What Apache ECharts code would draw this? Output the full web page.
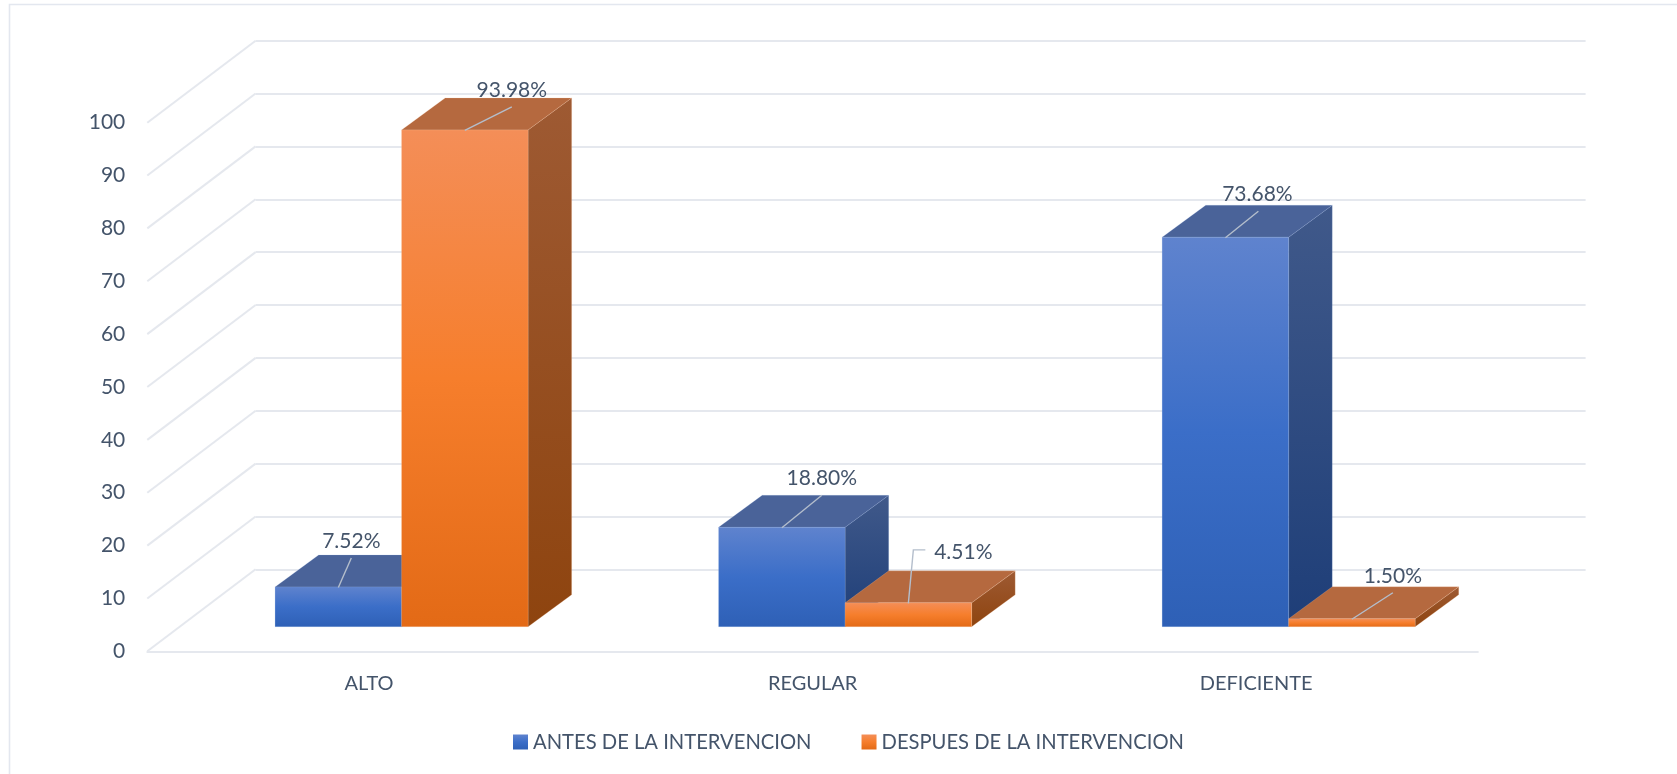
<!DOCTYPE html>
<html>
<head>
<meta charset="utf-8">
<style>html,body{margin:0;padding:0;background:#fff}#c{width:1677px;height:774px}</style>
<script src="https://cdn.jsdelivr.net/npm/echarts@6/dist/echarts.min.js"></script>
</head>
<body>
<div id="c"></div>
<script>
const categories = ['ALTO', 'REGULAR', 'DEFICIENTE'];
const antes = [7.52, 18.80, 73.68];
const despues = [93.98, 4.51, 1.50];
const yTicks = [0, 10, 20, 30, 40, 50, 60, 70, 80, 90, 100];
const seriesNames = ['ANTES DE LA INTERVENCION', 'DESPUES DE LA INTERVENCION'];

// Leader-line bends and label centres, relative to the middle of the bar's top-front edge
const antesLabelLayout = [
  { line: [[13, -29]], text: [13, -46] },
  { line: [[40, -32]], text: [40, -49] },
  { line: [[33, -26]], text: [32, -43] }
];
const despuesLabelLayout = [
  { line: [[47, -23]], text: [47, -40] },
  { line: [[5, -53], [17, -53]], text: [55, -51] },
  { line: [[41, -26]], text: [41, -43] }
];

const FONT = 'Lato, Carlito, sans-serif';
const TEXT = '#44546A';
const GRIDLINE = '#E5E8EE';
const WALL = { x: 108.3, y: -82 };
const BAR = { width: 126.5, depthX: 43.6, depthY: -32, shiftX: 32.5, shiftY: -24.6 };

const grad = (stops, x2 = 0, y2 = 1) => ({
  type: 'linear', x: 0, y: 0, x2, y2,
  colorStops: stops.map((c, i) => ({ offset: i / (stops.length - 1), color: c }))
});
const palette = [
  {
    front: grad(['#5F83CE', '#3B6EC8', '#2E60B6']),
    top: '#4A6399',
    side: grad(['#40598A', '#1E3E78']),
    edge: 'rgba(150,175,225,0.3)'
  },
  {
    front: grad(['#F48E58', '#F67E2C', '#E36A16']),
    top: '#B5693F',
    side: grad(['#9E5A33', '#8E440F']),
    edge: 'rgba(250,200,170,0.35)'
  }
];

function barSeries(idx, values, layout) {
  const p = palette[idx];
  return {
    type: 'custom',
    name: seriesNames[idx],
    xAxisIndex: 0,
    yAxisIndex: 0,
    clip: false,
    z: 5 + idx,
    itemStyle: { color: p.front },
    encode: { x: 0, y: 1 },
    data: values.map((v, i) => [i, v]),
    renderItem(params, api) {
      const c = api.coord([api.value(0), api.value(1)]);
      const b = api.coord([api.value(0), 0]);
      const x0 = c[0] + BAR.shiftX + (idx === 0 ? -BAR.width : 0);
      const x1 = x0 + BAR.width;
      const yt = c[1] + BAR.shiftY;
      const yb = b[1] + BAR.shiftY;
      const dx = BAR.depthX, dy = BAR.depthY;
      const lay = layout[params.dataIndex];
      const ax = (x0 + x1) / 2, ay = yt;
      const linePts = [[ax, ay + 0.5]].concat(lay.line.map(o => [ax + o[0], ay + o[1]]));
      return {
        type: 'group',
        children: [
          { type: 'polygon', shape: { points: [[x1, yt], [x1 + dx, yt + dy], [x1 + dx, yb + dy], [x1, yb]] },
            style: { fill: p.side, stroke: p.edge, lineWidth: 0.6 } },
          { type: 'polygon', shape: { points: [[x0, yt], [x0 + dx, yt + dy], [x1 + dx, yt + dy], [x1, yt]] },
            style: { fill: p.top, stroke: p.edge, lineWidth: 0.6 } },
          { type: 'rect', shape: { x: x0, y: yt, width: BAR.width, height: yb - yt },
            style: { fill: p.front, stroke: p.edge, lineWidth: 0.6 } },
          { type: 'polyline', shape: { points: linePts },
            style: { fill: 'none', stroke: '#B4BECC', lineWidth: 1.4 } },
          { type: 'text',
            style: { x: ax + lay.text[0], y: ay + lay.text[1], text: values[params.dataIndex].toFixed(2) + '%',
              fill: TEXT, font: '21px ' + FONT, textAlign: 'center', textVerticalAlign: 'middle' } }
        ]
      };
    }
  };
}

const chart = echarts.init(document.getElementById('c'), null, { renderer: 'canvas' });
chart.setOption({
  animation: false,
  backgroundColor: '#fff',
  graphic: [{
    type: 'polyline', silent: true, z: 0,
    shape: { points: [[9.5, 774], [9.5, 4.5], [1677, 4.5]] },
    style: { fill: 'none', stroke: '#E3E7EF', lineWidth: 1.6 }
  }],
  grid: [
    { left: 147.3, top: 122.7, width: 1330.6, height: 528.6 },
    { left: 255.6, top: 40.7, width: 1330, height: 528.6 }
  ],
  xAxis: [
    { type: 'category', gridIndex: 0, data: categories,
      axisTick: { show: false },
      axisLine: { lineStyle: { color: GRIDLINE, width: 2 } },
      axisLabel: { color: TEXT, fontFamily: FONT, fontSize: 20, margin: 22 } },
    { type: 'category', gridIndex: 1, data: categories,
      axisTick: { show: false }, axisLine: { show: false }, axisLabel: { show: false } }
  ],
  yAxis: [
    { type: 'value', gridIndex: 0, min: 0, max: 100, interval: 10,
      axisLine: { show: false }, axisTick: { show: false }, splitLine: { show: false },
      axisLabel: { color: TEXT, fontFamily: FONT, fontSize: 21, margin: 22, padding: [4, 0, 0, 0] } },
    { type: 'value', gridIndex: 1, min: 0, max: 100, interval: 10,
      axisLine: { show: false }, axisTick: { show: false }, axisLabel: { show: false },
      splitLine: { show: true, lineStyle: { color: GRIDLINE, width: 2 } } }
  ],
  legend: {
    left: 508, top: 727, itemWidth: 15, itemHeight: 15, itemGap: 50,
    selectedMode: false, icon: 'rect',
    textStyle: { color: TEXT, fontFamily: FONT, fontSize: 20.2, padding: [0, 0, 0, 0] },
    data: seriesNames.map((n, i) => ({ name: n, itemStyle: { color: palette[i].front } }))
  },
  series: [
    {
      type: 'custom',
      xAxisIndex: 0, yAxisIndex: 0, clip: false, z: 1, silent: true,
      encode: { y: 0 },
      data: yTicks.map(v => [v]),
      renderItem(params, api) {
        const y = api.coord([0, api.value(0)])[1];
        const x = params.coordSys.x;
        return { type: 'line', shape: { x1: x, y1: y, x2: x + WALL.x, y2: y + WALL.y },
          style: { stroke: GRIDLINE, lineWidth: 2 } };
      }
    },
    barSeries(0, antes, antesLabelLayout),
    barSeries(1, despues, despuesLabelLayout)
  ]
});
</script>
</body>
</html>
